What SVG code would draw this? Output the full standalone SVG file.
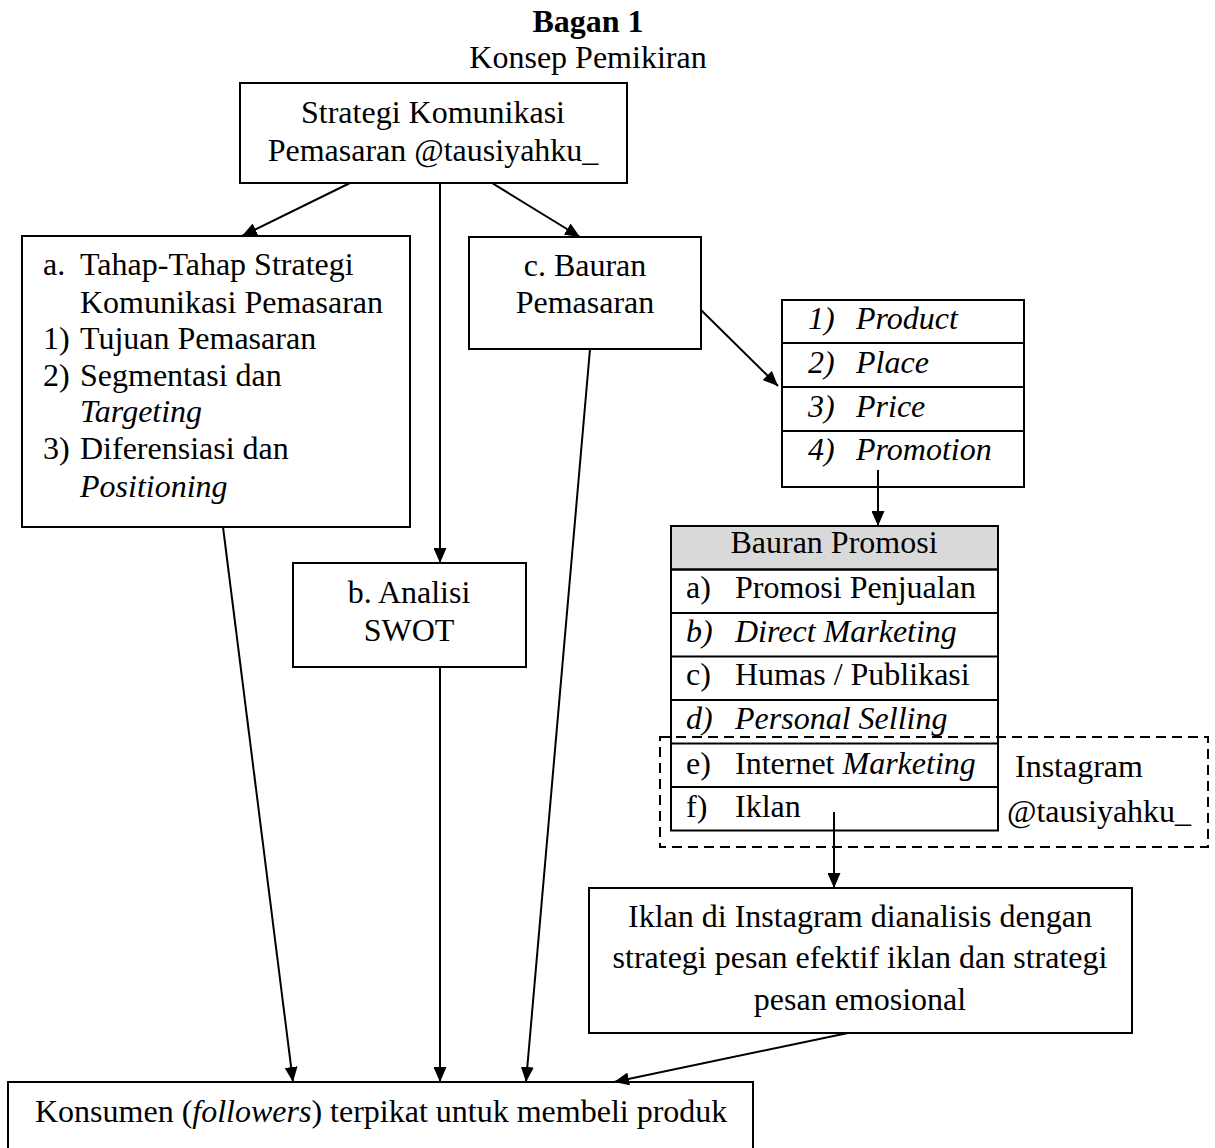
<svg xmlns="http://www.w3.org/2000/svg" width="1215" height="1148" viewBox="0 0 1215 1148">
<style>
text{font-family:"Liberation Serif","Times New Roman",serif;font-size:32px;fill:#000}
.b{font-weight:bold}
.i{font-style:italic}
.c{text-anchor:middle}
.box{fill:none;stroke:#000;stroke-width:2}
.hd{fill:#d9d9d9;stroke:#000;stroke-width:2}
.ln{fill:none;stroke:#000;stroke-width:2}
.dash{fill:none;stroke:#000;stroke-width:2;stroke-dasharray:10,6}
.con{fill:none;stroke:#000;stroke-width:2;marker-end:url(#ah)}
</style>
<defs>
<marker id="ah" viewBox="0 0 15 13" refX="15" refY="6.5" markerWidth="15" markerHeight="13" markerUnits="userSpaceOnUse" orient="auto">
<path d="M0,0 L15,6.5 L0,13 Z" fill="#000"/>
</marker>
</defs>
<rect width="1215" height="1148" fill="#fff"/>
<g id="title">
<text class="b c" x="588" y="32">Bagan 1</text>
<text class="c" x="588" y="68">Konsep Pemikiran</text>
</g>
<g id="node-strategi">
<rect class="box" x="240" y="83" width="387" height="100"/>
<text class="c" x="433" y="123">Strategi Komunikasi</text>
<text class="c" x="433" y="161">Pemasaran @tausiyahku_</text>
</g>
<g id="node-tahap">
<rect class="box" x="22" y="236" width="388" height="291"/>
<text x="43" y="275">a.</text><text x="80" y="275">Tahap-Tahap Strategi</text>
<text x="80" y="313">Komunikasi Pemasaran</text>
<text x="43" y="349">1)</text><text x="80" y="349">Tujuan Pemasaran</text>
<text x="43" y="386">2)</text><text x="80" y="386">Segmentasi dan</text>
<text class="i" x="80" y="422">Targeting</text>
<text x="43" y="459">3)</text><text x="80" y="459">Diferensiasi dan</text>
<text class="i" x="80" y="497">Positioning</text>
</g>
<g id="node-bauran-pemasaran">
<rect class="box" x="469" y="237" width="232" height="112"/>
<text class="c" x="585" y="276">c. Bauran</text>
<text class="c" x="585" y="313">Pemasaran</text>
</g>
<g id="node-4p">
<rect class="box" x="782" y="300" width="242" height="187"/>
<line class="ln" x1="782" y1="343" x2="1024" y2="343"/>
<line class="ln" x1="782" y1="387" x2="1024" y2="387"/>
<line class="ln" x1="782" y1="431" x2="1024" y2="431"/>
<text class="i" x="808" y="329">1)</text><text class="i" x="856" y="329">Product</text>
<text class="i" x="808" y="373">2)</text><text class="i" x="856" y="373">Place</text>
<text class="i" x="808" y="417">3)</text><text class="i" x="856" y="417">Price</text>
<text class="i" x="808" y="460">4)</text><text class="i" x="856" y="460">Promotion</text>
</g>
<g id="node-swot">
<rect class="box" x="293" y="563" width="233" height="104"/>
<text class="c" x="409" y="603">b. Analisi</text>
<text class="c" x="409" y="641">SWOT</text>
</g>
<g id="node-bauran-promosi">
<rect class="hd" x="671" y="526" width="327" height="43.5"/>
<rect class="box" x="671" y="526" width="327" height="304.5"/>
<line class="ln" x1="671" y1="569.5" x2="998" y2="569.5"/>
<line class="ln" x1="671" y1="613" x2="998" y2="613"/>
<line class="ln" x1="671" y1="656.5" x2="998" y2="656.5"/>
<line class="ln" x1="671" y1="700" x2="998" y2="700"/>
<line class="ln" x1="671" y1="743.5" x2="998" y2="743.5"/>
<line class="ln" x1="671" y1="787" x2="998" y2="787"/>
<text class="c" x="834" y="553">Bauran Promosi</text>
<text x="686" y="598">a)</text><text x="735" y="598">Promosi Penjualan</text>
<text class="i" x="686" y="642">b)</text><text class="i" x="735" y="642">Direct Marketing</text>
<text x="686" y="685">c)</text><text x="735" y="685">Humas / Publikasi</text>
<text class="i" x="686" y="729">d)</text><text class="i" x="735" y="729">Personal Selling</text>
<text x="686" y="774">e)</text><text x="735" y="774">Internet <tspan class="i">Marketing</tspan></text>
<text x="686" y="817">f)</text><text x="735" y="817">Iklan</text>
</g>
<g id="node-instagram">
<rect class="dash" x="660" y="737" width="548" height="110"/>
<text x="1015" y="777">Instagram</text>
<text x="1007" y="822">@tausiyahku_</text>
</g>
<g id="node-iklan">
<rect class="box" x="589" y="888" width="543" height="145"/>
<text class="c" x="860" y="927">Iklan di Instagram dianalisis dengan</text>
<text class="c" x="860" y="968">strategi pesan efektif iklan dan strategi</text>
<text class="c" x="860" y="1010">pesan emosional</text>
</g>
<g id="node-konsumen">
<rect class="box" x="8" y="1082" width="745" height="80"/>
<text x="35" y="1122">Konsumen (<tspan class="i">followers</tspan>) terpikat untuk membeli produk</text>
</g>
<g id="connectors">
<line class="con" x1="350" y1="183" x2="242" y2="236"/>
<line class="con" x1="440" y1="183" x2="440" y2="563"/>
<line class="con" x1="492" y1="183" x2="580" y2="237"/>
<line class="con" x1="701" y1="310" x2="778" y2="386"/>
<line class="con" x1="878" y1="470" x2="878" y2="526"/>
<line class="con" x1="834" y1="812" x2="834" y2="888"/>
<line class="con" x1="223" y1="527" x2="293" y2="1082"/>
<line class="con" x1="440" y1="667" x2="440" y2="1082"/>
<line class="con" x1="590" y1="349" x2="526" y2="1082"/>
<line class="con" x1="848" y1="1033" x2="614" y2="1082"/>
</g>
</svg>
